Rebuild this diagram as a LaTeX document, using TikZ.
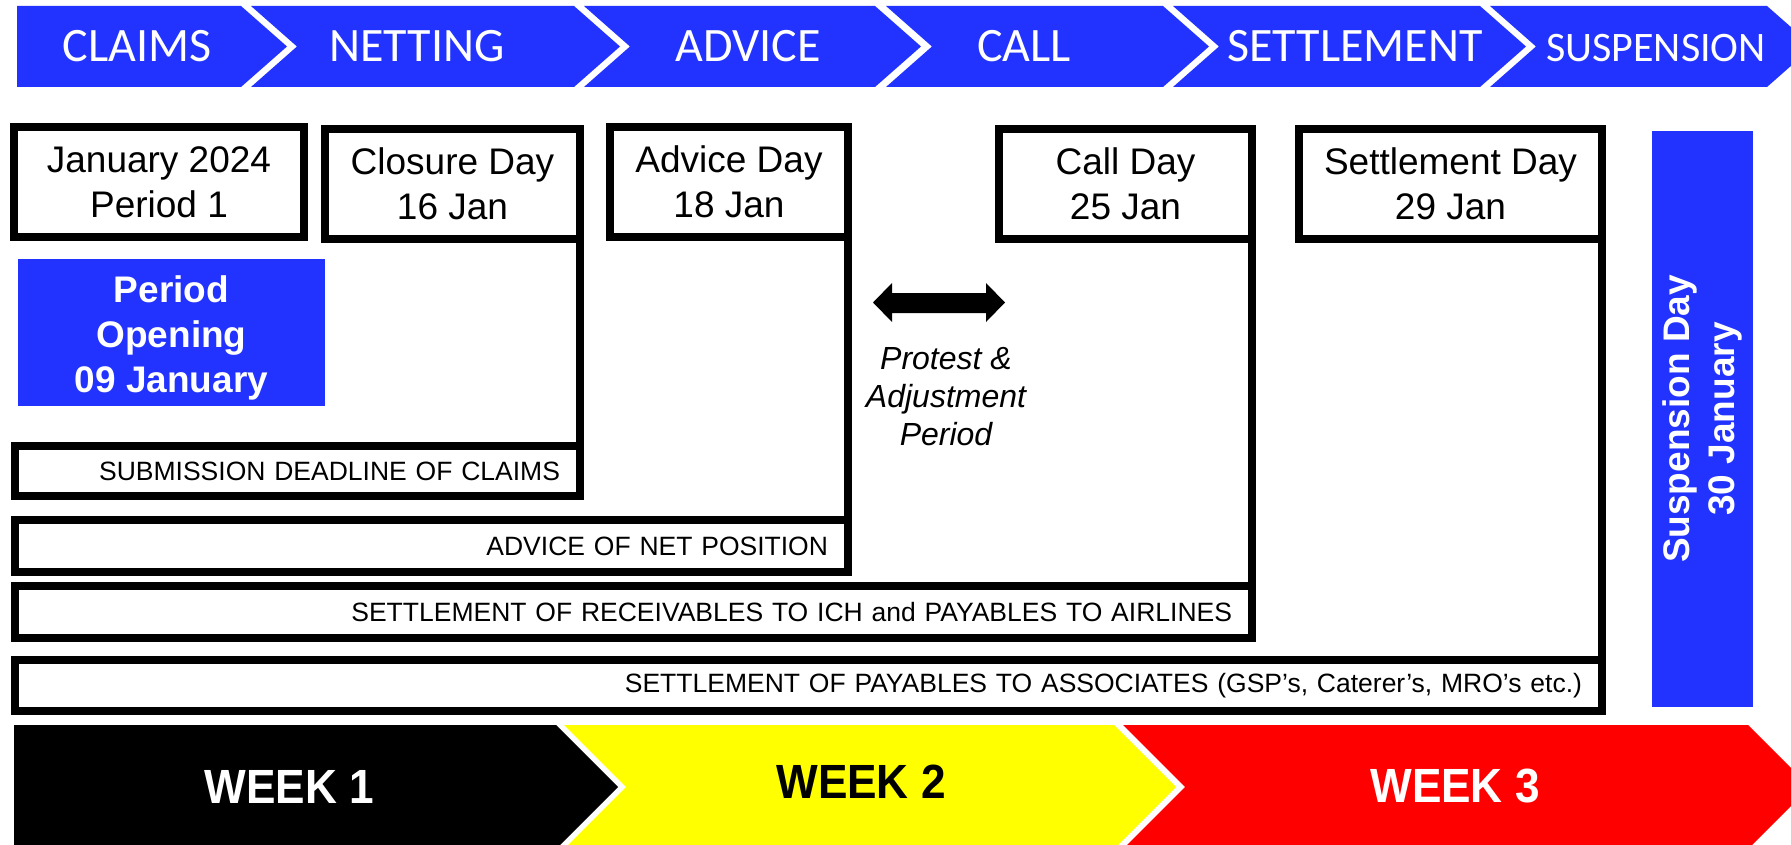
\documentclass[tikz,border=0pt]{standalone}
\usepackage{fontspec}
\setmainfont{Liberation Sans}
\newfontfamily\calib{Carlito}
\definecolor{chblue}{RGB}{34,51,255}
\definecolor{wkyellow}{RGB}{255,255,0}
\definecolor{wkred}{RGB}{255,0,0}
\begin{document}
\begin{tikzpicture}[x=1pt,y=-1pt,
  daybox/.style={draw=black, line width=8pt, fill=white, outer sep=0pt, inner sep=0pt, align=center, font=\fontsize{37}{45}\selectfont},
  barbox/.style={draw=black, line width=8pt, fill=white, outer sep=0pt, inner xsep=20pt, inner ysep=0pt, align=right, font=\fontsize{26.5}{30}\selectfont},
  bluebox/.style={fill=chblue, outer sep=0pt, inner sep=0pt, text=white, align=center, font=\bfseries\fontsize{37}{45}\selectfont},
  phase/.style={text=white, anchor=base, inner sep=0pt, font=\calib\fontsize{48}{56}\selectfont},
  week/.style={anchor=base, inner sep=0pt, font=\bfseries\fontsize{48}{56}\selectfont},
  link/.style={line width=8pt}
]
\useasboundingbox (0,0) rectangle (1791,845);
\fill[white] (0,0) rectangle (1791,845);
\clip (0,0) rectangle (1791,845);

% top phase chevrons
\fill[chblue] (17,6) -- (241,6) -- (287,46.5) -- (241,87) -- (17,87) -- cycle;
\foreach \a/\b in {251/574, 584/875, 886/1163, 1173/1480, 1490/1767}{
  \fill[chblue] (\a,6) -- (\b,6) -- ({\b+46},46.5) -- (\b,87) -- (\a,87) -- ({\a+46},46.5) -- cycle;
}
\node[phase] (pclaims) at (137,62) {CLAIMS};
\node[phase] (pnetting) at (417,62) {NETTING};
\node[phase] (padvice) at (748,62) {ADVICE};
\node[phase] (pcall) at (1024,62) {CALL};
\node[phase] (psettle) at (1355,62) {SETTLEMENT};
\node[phase, font=\calib\fontsize{42}{50}\selectfont] (psusp) at (1656,62) {SUSPENSION};

% day boxes
\node[daybox, minimum width=290, minimum height=110] (jan) at (159,182) {January 2024\\Period 1};
\node[daybox, minimum width=255, minimum height=110] (closure) at (452.5,184) {Closure Day\\16 Jan};
\node[daybox, minimum width=238, minimum height=110] (advice) at (729,182) {Advice Day\\18 Jan};
\node[daybox, minimum width=253, minimum height=110] (call) at (1125.5,184) {Call Day\\25 Jan};
\node[daybox, minimum width=303, minimum height=110] (settle) at (1450.5,184) {Settlement Day\\29 Jan};

% blue boxes
\node[bluebox, minimum width=307, minimum height=147] (open) at (171.5,332.5) {\raisebox{-5pt}[\height][\depth]{\parbox{300pt}{\centering Period\\Opening\\09 January}}};
\node[bluebox, rotate=90, minimum width=576, minimum height=101] (susp) at (1702.5,419) {Suspension Day\\30 January};

% bars
\node[barbox, minimum width=565, minimum height=50, text width=525] (sub) at (297.5,471) {SUBMISSION DEADLINE OF CLAIMS};
\node[barbox, minimum width=833, minimum height=52, text width=793] (net) at (431.5,546) {ADVICE OF NET POSITION};
\node[barbox, minimum width=1237, minimum height=52, text width=1197] (recv) at (633.5,612) {SETTLEMENT OF RECEIVABLES TO ICH and PAYABLES TO AIRLINES};
\node[barbox, minimum width=1587, minimum height=51, text width=1547] (pay) at (808.5,685.5) {SETTLEMENT OF PAYABLES TO ASSOCIATES (GSP’s, Caterer’s, MRO’s etc.)};

% connectors
\draw[link] (closure.south east) -- (sub.north east);
\draw[link] (advice.south east) -- (net.north east);
\draw[link] (call.south east) -- (recv.north east);
\draw[link] (settle.south east) -- (pay.north east);

% protest arrow and label
\fill[black] (873,302.5) -- (892,283) -- (892,293) -- (986,293) -- (986,283) -- (1005,302.5) -- (986,322) -- (986,313) -- (892,313) -- (892,322) -- cycle;
\node[align=center, inner sep=0pt, font=\itshape\fontsize{32}{38}\selectfont] (protest) at (946,397) {Protest \&\\Adjustment\\Period};

% weeks
\fill[black] (14,725) -- (556,725) -- (618,787) -- (556,849) -- (14,849) -- cycle;
\fill[wkyellow] (564,725) -- (1114,725) -- (1176,787) -- (1114,849) -- (564,849) -- (626,787) -- cycle;
\fill[wkred] (1123,725) -- (1748,725) -- (1810,787) -- (1748,849) -- (1123,849) -- (1185,787) -- cycle;
\node[week, text=white] (w1) at (289.5,803) {\scalebox{0.92}[1]{WEEK 1}};
\node[week, text=black] (w2) at (861,798) {\scalebox{0.92}[1]{WEEK 2}};
\node[week, text=white] (w3) at (1455,802) {\scalebox{0.92}[1]{WEEK 3}};
\end{tikzpicture}
\end{document}
